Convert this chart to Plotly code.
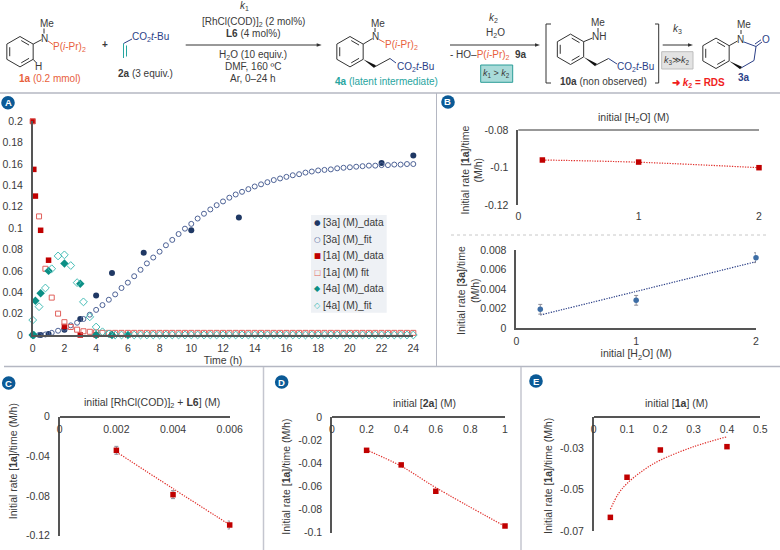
import math
import plotly.graph_objects as go

# ---------- Panel A data ----------
t_3a_data = [0, 0.5, 1, 2, 3, 4, 5, 7, 10, 13, 22, 24]
y_3a_data = [0, 0, 0.001, 0.005, 0.015, 0.037, 0.058, 0.077, 0.098, 0.110, 0.161, 0.168]
t_1a_data = [0, 0.07, 0.17, 0.5, 1, 2, 3, 4, 5, 6]
y_1a_data = [0.2, 0.155, 0.13, 0.098, 0.07, 0.008, 0, 0, 0, 0]
t_4a_data = [0, 0.07, 0.17, 0.5, 1, 2, 3, 4, 5, 6]
y_4a_data = [0, 0, 0.032, 0.039, 0.060, 0.067, 0.048, 0, 0, 0]
t_fit = [0, 0.4, 0.8, 1.2, 1.6, 2, 2.4, 2.8, 3.2, 3.6, 4, 4.4, 4.8, 5.2, 5.6, 6, 6.4, 6.8, 7.2, 7.6,
         8, 8.4, 8.8, 9.2, 9.6, 10, 10.4, 10.8, 11.2, 11.6, 12, 12.4, 12.8, 13.2, 13.6, 14, 14.4, 14.8,
         15.2, 15.6, 16, 16.4, 16.8, 17.2, 17.6, 18, 18.4, 18.8, 19.2, 19.6, 20, 20.4, 20.8, 21.2, 21.6,
         22, 22.4, 22.8, 23.2, 23.6, 24]
y_3a_fit = [0, 0, 0.0005, 0.002, 0.004, 0.006, 0.009, 0.0115, 0.015, 0.019, 0.0235, 0.028, 0.033, 0.038,
            0.044, 0.049, 0.055, 0.061, 0.067, 0.0725, 0.078, 0.084, 0.089, 0.0945, 0.0995, 0.104, 0.109,
            0.1135, 0.1175, 0.1215, 0.125, 0.1285, 0.1315, 0.134, 0.1365, 0.139, 0.141, 0.143, 0.145,
            0.1465, 0.148, 0.1495, 0.1505, 0.152, 0.153, 0.154, 0.1545, 0.155, 0.156, 0.1565, 0.157,
            0.1575, 0.158, 0.1585, 0.1585, 0.159, 0.159, 0.1595, 0.1595, 0.16, 0.16]
y_1a_fit = [0.2, 0.111, 0.062, 0.035, 0.020, 0.012, 0.0075, 0.005, 0.0035, 0.003, 0.0025, 0.002, 0.002,
            0.002, 0.002, 0.002, 0.002, 0.002, 0.002, 0.002, 0.002, 0.002, 0.002, 0.002, 0.002, 0.002,
            0.002, 0.002, 0.002, 0.002, 0.002, 0.002, 0.002, 0.002, 0.002, 0.002, 0.002, 0.002, 0.002,
            0.002, 0.002, 0.002, 0.002, 0.002, 0.002, 0.002, 0.002, 0.002, 0.002, 0.002, 0.002, 0.002,
            0.002, 0.002, 0.002, 0.002, 0.002, 0.002, 0.002, 0.002, 0.002]
y_4a_fit = [0.014, 0.0265, 0.044, 0.062, 0.074, 0.075, 0.065, 0.049, 0.031, 0.017, 0.0075, 0.003, 0.001,
            0, 0, 0, 0, 0, 0, 0, 0, 0, 0, 0, 0, 0, 0, 0, 0, 0, 0, 0, 0, 0, 0, 0, 0, 0, 0, 0, 0, 0, 0, 0,
            0, 0, 0, 0, 0, 0, 0, 0, 0, 0, 0, 0, 0, 0, 0, 0, 0]
ticks_a_x = [0, 2, 4, 6, 8, 10, 12, 14, 16, 18, 20, 22, 24]
ticks_a_y = [0, 0.02, 0.04, 0.06, 0.08, 0.1, 0.12, 0.14, 0.16, 0.18, 0.2]
labels_a_y = ["0", "0.02", "0.04", "0.06", "0.08", "0.1", "0.12", "0.14", "0.16", "0.18", "0.2"]
legend_names = ["[3a] (M)_data", "[3a] (M)_fit", "[1a] (M)_data", "[1a] (M) fit", "[4a] (M)_data", "[4a] (M)_fit"]
legend_glyphs = ["●", "○", "■", "□", "◆", "◇"]

# ---------- Panel B ----------
x_b = [0.2, 1, 2]
y_b1 = [-0.096, -0.0971, -0.1001]
y_b1_trend = [-0.096, -0.0972, -0.1001]
y_b2 = [0.00192, 0.00284, 0.00721]
e_b2 = [0.0005, 0.0005, 0.0005]
y_b2_trend = [0.00133, 0.00375, 0.0068]
# ---------- Panel C ----------
x_c = [0.002, 0.004, 0.006]
y_c = [-0.0339, -0.0786, -0.1092]
e_c = [0.004, 0.004, 0.004]
y_c_trend = [-0.0355, -0.0725, -0.109]
# ---------- Panel D ----------
x_d = [0.2, 0.4, 0.6, 1]
y_d = [-0.0288, -0.0414, -0.0642, -0.0942]
y_d_trend = [-0.0285, -0.0425, -0.0610, -0.0945]
# ---------- Panel E ----------
x_e = [0.05, 0.1, 0.2, 0.4]
y_e = [-0.0634, -0.044, -0.0308, -0.0292]
x_e_trend = [0.05, 0.074, 0.1, 0.15, 0.2, 0.3, 0.4]
y_e_trend = [-0.0595, -0.052, -0.047, -0.0405, -0.0357, -0.0292, -0.0244]

W, H = 780, 550
TXT = "#3a3a3a"
AX = "#555555"
FONT = "Liberation Sans"
RED = "#c00000"
NAVY = "#1f3864"
TEAL = "#0b8f85"
ORANGE = "#e8603c"
BLUEC = "#2b3f87"
TEALT = "#27a5a0"
FIT3, FIT1, FIT4 = "#4d6296", "#e0605c", "#45bdb6"

def px(x): return x / W
def py(y): return 1 - y / H

fig = go.Figure()

# ---- panel A traces ----
fig.add_trace(go.Scatter(x=t_3a_data, y=y_3a_data, mode="markers", name=legend_names[0], cliponaxis=False,
                         marker=dict(symbol="circle", size=6, color=NAVY), xaxis="x", yaxis="y"))
fig.add_trace(go.Scatter(x=t_fit, y=y_3a_fit, mode="markers", name=legend_names[1], cliponaxis=False,
                         marker=dict(symbol="circle-open", size=5, color=FIT3, line=dict(width=1)), xaxis="x", yaxis="y"))
fig.add_trace(go.Scatter(x=t_1a_data, y=y_1a_data, mode="markers", name=legend_names[2], cliponaxis=False,
                         marker=dict(symbol="square", size=5.5, color=RED), xaxis="x", yaxis="y"))
fig.add_trace(go.Scatter(x=t_fit, y=y_1a_fit, mode="markers", name=legend_names[3], cliponaxis=False,
                         marker=dict(symbol="square-open", size=5, color=FIT1, line=dict(width=1)), xaxis="x", yaxis="y"))
fig.add_trace(go.Scatter(x=t_4a_data, y=y_4a_data, mode="markers", name=legend_names[4], cliponaxis=False,
                         marker=dict(symbol="diamond", size=6.5, color=TEAL), xaxis="x", yaxis="y"))
fig.add_trace(go.Scatter(x=t_fit, y=y_4a_fit, mode="markers", name=legend_names[5], cliponaxis=False,
                         marker=dict(symbol="diamond-open", size=6, color=FIT4, line=dict(width=1)), xaxis="x", yaxis="y"))

def small(x, y, trend_x, trend, xa, ya, err=None, color=RED, tcolor="#e0302c"):
    fig.add_trace(go.Scatter(x=trend_x, y=trend, mode="lines", showlegend=False, cliponaxis=False,
                             line=dict(color=tcolor, width=1.2, dash="1.3px,1.3px", shape="spline"), xaxis=xa, yaxis=ya))
    ey = dict(type="data", array=err, color="#8c8c98", thickness=1, width=2) if err else None
    fig.add_trace(go.Scatter(x=x, y=y, mode="markers", showlegend=False, cliponaxis=False, error_y=ey,
                             marker=dict(symbol="square" if color == RED else "circle", size=5.5, color=color), xaxis=xa, yaxis=ya))

small(x_b, y_b1, x_b, y_b1_trend, "x2", "y2")
small(x_b, y_b2, x_b, y_b2_trend, "x3", "y3", e_b2, "#3d6da5", "#2b3f87")
small(x_c, y_c, x_c, y_c_trend, "x4", "y4", e_c)
small(x_d, y_d, x_d, y_d_trend, "x5", "y5")
small(x_e, y_e, x_e_trend, y_e_trend, "x6", "y6")

TF = dict(family=FONT, size=10.5, color=TXT)
def xax(l, r, rng, vals, labs, anchor, **kw):
    d = dict(domain=[px(l), px(r)], range=rng, tickmode="array", tickvals=vals, ticktext=labs, anchor=anchor,
             showgrid=False, zeroline=False, showline=True, linecolor=AX, linewidth=1.5, ticks="",
             tickfont=TF, automargin=False, ticklabelstandoff=3)
    d.update(kw); return d
def yax(t, b, rng, vals, labs, anchor, **kw):
    d = dict(domain=[py(b), py(t)], range=rng, tickmode="array", tickvals=vals, ticktext=labs, anchor=anchor,
             showgrid=False, zeroline=False, showline=True, linecolor=AX, linewidth=1.5, ticks="",
             tickfont=TF, automargin=False, ticklabelstandoff=6)
    d.update(kw); return d
def ttl(text, standoff):
    return dict(text=text, font=dict(family=FONT, size=10.5, color=TXT), standoff=standoff)

lay = dict(
    width=W, height=H, margin=dict(l=0, r=0, t=0, b=0), autosize=False, showlegend=False,
    paper_bgcolor="white", plot_bgcolor="rgba(0,0,0,0)", font=dict(family=FONT, color=TXT, size=10.5),
    xaxis=xax(32.7, 413.3, [0, 24], ticks_a_x, [str(v) for v in ticks_a_x], "y", title=ttl("Time (h)", 0)),
    yaxis=yax(121.3, 335, [0, 0.2], ticks_a_y, labels_a_y, "x"),
    xaxis2=xax(518.3, 759, [0, 2], [0, 1, 2], ["0", "1", "2"], "y2", showline=False),
    yaxis2=yax(130, 205, [-0.12, -0.08], [-0.12, -0.1, -0.08], ["-0.12", "-0.1", "-0.08"], "x2"),
    xaxis3=xax(516.3, 756, [0, 2], [0, 1, 2], ["0", "1", "2"], "y3", title=ttl("initial [H<sub>2</sub>O] (M)", 0)),
    yaxis3=yax(250, 328, [0, 0.008], [0, 0.002, 0.004, 0.006, 0.008], ["0", "0.002", "0.004", "0.006", "0.008"], "x3"),
    xaxis4=xax(59.7, 229.7, [0, 0.006], [0, 0.002, 0.004, 0.006], ["0", "0.002", "0.004", "0.006"], "free", position=py(416.7)),
    yaxis4=yax(416.7, 535.7, [-0.12, 0], [-0.12, -0.08, -0.04, 0], ["-0.12", "-0.08", "-0.04", "0"], "x4"),
    xaxis5=xax(332, 505, [0, 1], [0, 0.2, 0.4, 0.6, 0.8, 1], ["0", "0.2", "0.4", "0.6", "0.8", "1"], "free", position=py(417)),
    yaxis5=yax(417, 532.7, [-0.1, 0], [-0.1, -0.08, -0.06, -0.04, -0.02, 0], ["-0.1", "-0.08", "-0.06", "-0.04", "-0.02", "0"], "x5"),
    xaxis6=xax(593.7, 760.3, [0, 0.5], [0, 0.1, 0.2, 0.3, 0.4, 0.5], ["0", "0.1", "0.2", "0.3", "0.4", "0.5"], "free", position=py(416.7)),
    yaxis6=yax(416.7, 531, [-0.07, -0.0147], [-0.07, -0.05, -0.03], ["-0.07", "-0.05", "-0.03"], "x6"),
)
fig.update_layout(**lay)

shapes, annos = [], []
def line(x0, y0, x1, y1, c="#333333", w=1.0, dash=None):
    d = dict(color=c, width=w)
    if dash: d["dash"] = dash
    shapes.append(dict(type="line", xref="paper", yref="paper", x0=px(x0), y0=py(y0), x1=px(x1), y1=py(y1), line=d))
def poly(pts, fill, c=None, w=0):
    path = "M " + " L ".join(f"{px(a):.5f},{py(b):.5f}" for a, b in pts) + " Z"
    shapes.append(dict(type="path", xref="paper", yref="paper", path=path, fillcolor=fill,
                       line=dict(color=c or fill, width=w)))
def rect(x0, y0, x1, y1, fill, c, w=1):
    shapes.append(dict(type="rect", xref="paper", yref="paper", x0=px(x0), y0=py(y0), x1=px(x1), y1=py(y1),
                       fillcolor=fill, line=dict(color=c, width=w)))
def text(x, y, s, size=10, c=TXT, anchor="center", angle=0, family=FONT):
    annos.append(dict(x=px(x), y=py(y), xref="paper", yref="paper", text=s, showarrow=False, xanchor=anchor,
                      yanchor="middle", textangle=angle, font=dict(family=family, size=size, color=c), borderpad=0, borderwidth=0))
def arrow(x0, x1, y):
    line(x0, y, x1 - 4, y, "#333333", 1)
    poly([(x1, y), (x1 - 5, y - 1.7), (x1 - 5, y + 1.7)], "#333333")
def ring(cx, cy, r=15.2, dbl=(0, 2, 4), c="#333333"):
    v = [(cx + r * math.cos(math.radians(-90 + 60 * i)), cy + r * math.sin(math.radians(-90 + 60 * i))) for i in range(6)]
    for i in range(6):
        a, b = v[i], v[(i + 1) % 6]
        line(a[0], a[1], b[0], b[1], c, 1)
        if i in dbl:
            f = 0.78
            a2 = (cx + (a[0] - cx) * f, cy + (a[1] - cy) * f)
            b2 = (cx + (b[0] - cx) * f, cy + (b[1] - cy) * f)
            m = 0.12
            line(a2[0] + (b2[0] - a2[0]) * m, a2[1] + (b2[1] - a2[1]) * m,
                 b2[0] - (b2[0] - a2[0]) * m, b2[1] - (b2[1] - a2[1]) * m, c, 1)
    return v
def wedge(x0, y0, x1, y1, w=1.6, c="#111111"):
    dx, dy = x1 - x0, y1 - y0
    L = math.hypot(dx, dy)
    nx, ny = -dy / L * w, dx / L * w
    poly([(x0, y0), (x1 + nx, y1 + ny), (x1 - nx, y1 - ny)], c)

PIPR = "P(<i>i</i>-Pr)<sub>2</sub>"
CO2 = "CO<sub>2</sub><i>t</i>-Bu"

# panel dividers
line(0, 93, 780, 93, "#b4b7c2", 1.5)
line(436.5, 93, 436.5, 366.5, "#b4b7c2", 1)
line(4, 366.5, 780, 366.5, "#b4b7c2", 1.5)
line(263.5, 367, 263.5, 550, "#c4c6cf", 1.5)
line(521, 367, 521, 550, "#c4c6cf", 1.5)
line(451, 235, 768, 235, "#c8c8c8", 1, "dot")

# badges
for bx, by, s in [(8, 102.7, "A"), (448, 102, "B"), (8.7, 383, "C"), (281.7, 382, "D"), (536, 381, "E")]:
    shapes.append(dict(type="circle", xref="paper", yref="paper", x0=px(bx - 6.8), x1=px(bx + 6.8),
                       y0=py(by + 6.8), y1=py(by - 6.8), fillcolor="#0b5a96", line=dict(width=0)))
    text(bx, by, f"<b>{s}</b>", 9.5, "white")

# top line of panel B upper chart
shapes.append(dict(type="line", xref="x2 domain", yref="y2 domain", x0=0, x1=1, y0=1, y1=1, line=dict(color="#333333", width=1.2)))

# axis titles
rate1 = "Initial rate [<b>1a</b>]/time (M/h)"
text(633, 118, "initial [H<sub>2</sub>O] (M)", 10.5)
text(471.5, 170, "Initial rate [<b>1a</b>]/time<br>(M/h)", 10.5, angle=-90)
text(468, 291, "Initial rate [<b>3a</b>]/time<br>(M/h)", 10.5, angle=-90)
text(151.7, 403, "initial [RhCl(COD)]<sub>2</sub> + <b>L6</b>] (M)", 10.5)
text(12.7, 461.5, rate1, 10.5, angle=-90)
text(424.8, 403, "initial [<b>2a</b>] (M)", 10.5)
text(286, 476.7, rate1, 10.5, angle=-90)
text(676, 403, "initial [<b>1a</b>] (M)", 10.5)
text(548, 476, rate1, 10.5, angle=-90)

# panel A key
rect(311, 215, 386.7, 312.7, "#eef1f5", "#eef1f5", 0)
key_rows = [222.7, 239, 255.7, 272, 288.7, 305]
key_cols = [NAVY, FIT3, RED, FIT1, TEAL, FIT4]
key_size = [7.5, 7.5, 7.5, 7.5, 8, 8]
for ky, nm, gl, gc, gs in zip(key_rows, legend_names, legend_glyphs, key_cols, key_size):
    text(317.3, ky, gl, gs, gc, family="DejaVu Sans")
    text(322.7, ky, nm, 10.2, TXT, "left")

# ---- scheme: 1a ----
v = ring(20, 51.7)
line(v[1][0], v[1][1], 41.5, 39.7); text(44, 38.5, "N", 10)
line(44, 33.5, 44, 28.5); text(47, 23, "Me")
line(48, 41, 53, 44.5, ORANGE); text(53, 47, PIPR, 10, ORANGE, "left")
line(v[2][0], v[2][1], 36, 62.5); text(38.5, 66, "H")
text(50, 78, "<b>1a</b> (0.2 mmol)", 10, ORANGE)
text(105, 45, "<b>+</b>", 10)
# 2a
text(132, 37, CO2, 10, BLUEC, "left")
line(132, 39, 123.5, 43.5, BLUEC)
line(123.5, 43.5, 123.5, 58, TEALT); line(126.5, 45.5, 126.5, 56.5, TEALT)
text(145, 74, "<b>2a</b> (3 equiv.)")
# arrow 1
arrow(185.7, 321.7, 45)
text(244, 5.5, "<i>k</i><sub>1</sub>")
text(253, 22, "[RhCl(COD)]<sub>2</sub> (2 mol%)")
text(253, 33.5, "<b>L6</b> (4 mol%)")
text(253, 55, "H<sub>2</sub>O (10 equiv.)")
text(253, 66.7, "DMF, 160 ºC")
text(253, 78, "Ar, 0–24 h")
# 4a
v = ring(350, 51.7)
line(v[1][0], v[1][1], 372.5, 38.5); text(375, 37, "N", 10)
line(375, 32, 375, 28); text(378, 23, "Me")
line(379, 39.5, 384.5, 42.5, ORANGE); text(385, 45, PIPR, 10, ORANGE, "left")
wedge(v[2][0], v[2][1], 375, 66.7)
line(375, 66.7, 390, 58.5); line(390, 58.5, 396, 63, BLUEC)
text(397, 67, CO2, 10, BLUEC, "left")
text(386, 82, "<b>4a</b> (latent intermediate)", 10, TEALT)
# arrow 2
arrow(450, 540, 45)
text(493, 18, "<i>k</i><sub>2</sub>")
text(495.7, 33, "H<sub>2</sub>O")
text(450, 55, f"- HO–<span style='color:{ORANGE}'>P(<i>i</i>-Pr)<sub>2</sub></span>  <b>9a</b>", 10, TXT, "left")
rect(480.7, 65, 512.7, 82.3, "#a9dbd9", "#2a9d98", 1)
text(496.7, 74, "<i>k</i><sub>1</sub> &gt; <i>k</i><sub>2</sub>", 9)
# brackets
for a, b, c, d in [(551, 24, 546, 24), (546, 24, 546, 83), (546, 83, 551, 83),
                   (655, 24, 658.7, 24), (658.7, 24, 658.7, 83), (658.7, 83, 655, 83)]:
    line(a, b, c, d, "#333333", 1)
# 10a
v = ring(570.5, 49.3)
line(v[1][0], v[1][1], 592.5, 38); text(599, 37, "NH", 10)
line(598, 32, 598, 28); text(598, 22, "Me")
wedge(v[2][0], v[2][1], 596, 65)
line(596, 65, 608.5, 58.5); line(608.5, 58.5, 617, 64, BLUEC)
text(617, 66.7, CO2, 10, BLUEC, "left")
text(603, 82, "<b>10a</b> (non observed)")
# arrow 3
arrow(662.7, 693, 45)
text(677, 29, "<i>k</i><sub>3</sub>")
rect(661.7, 51.7, 693, 69, "#e3e3e3", "#bdbdbd", 1)
text(677, 60, "<i>k</i><sub>3</sub>≫<i>k</i><sub>2</sub>", 9)
text(698, 83, "<b>➜ <i>k</i><sub>2</sub> = RDS</b>", 10, "#f01e1e")
# 3a
v = ring(716, 53.3)
line(v[1][0], v[1][1], 737.5, 41); text(740, 39, "N", 10)
line(741, 34, 741, 30); text(744, 25, "Me")
line(744, 42, 756, 46.5, BLUEC); line(756, 46.5, 762, 42, BLUEC); line(755, 44, 761, 39.8, BLUEC)
text(766, 39, "O", 10, BLUEC)
line(756, 46.5, 754, 60.5, BLUEC); line(754, 60.5, 741, 68, BLUEC)
wedge(v[2][0], v[2][1], 741, 68)
text(744, 77, "<b>3a</b>", 10, BLUEC)

fig.update_layout(shapes=shapes, annotations=annos)
fig.write_html("out.html", post_script="document.body.style.margin='0';", config={"displayModeBar": False})
